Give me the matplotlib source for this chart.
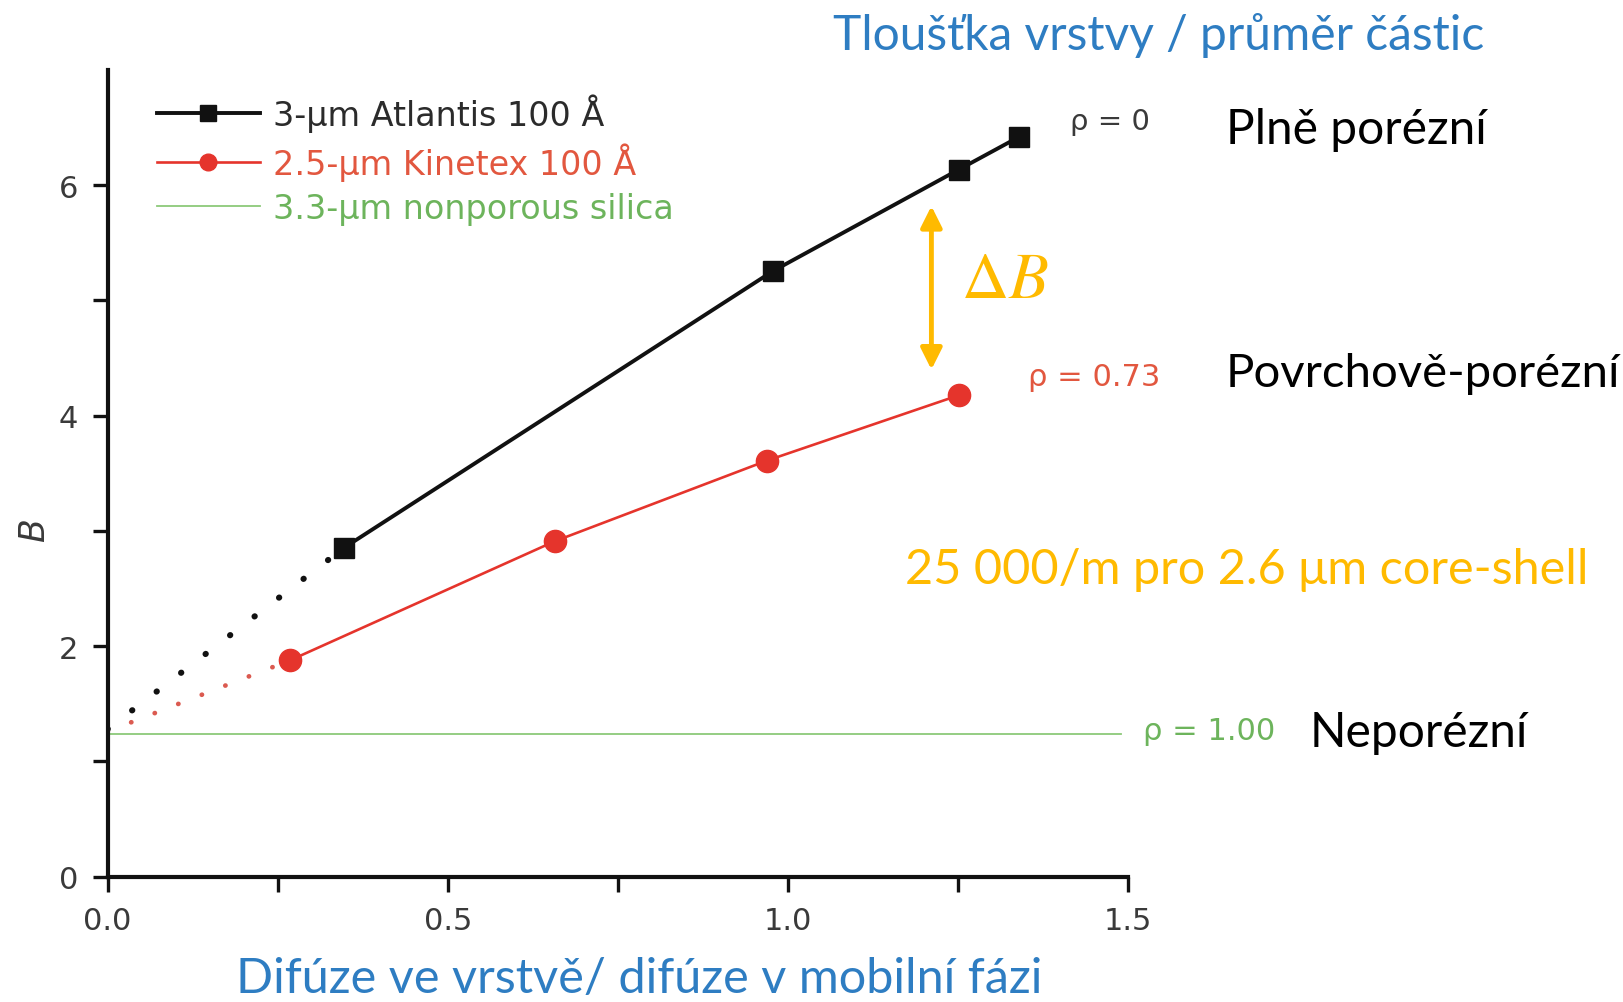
import matplotlib
matplotlib.use("Agg")
import matplotlib.pyplot as plt

# ---- data ----
atlantis_x = [0.348, 0.978, 1.251, 1.340]
atlantis_y = [2.856, 5.255, 6.135, 6.420]
kinetex_x = [0.268, 0.657, 0.969, 1.251]
kinetex_y = [1.877, 2.910, 3.610, 4.177]
nonporous_x = [0.0, 1.49]
nonporous_y = [1.24, 1.24]
atlantis_ext_x = [0.0, 0.348]
atlantis_ext_y = [1.28, 2.856]
kinetex_ext_x = [0.0, 0.268]
kinetex_ext_y = [1.26, 1.877]
delta_x = 1.211
delta_y = [5.82, 4.40]

xticks_major = [0.0, 0.5, 1.0, 1.5]
xtick_labels = ["0.0", "0.5", "1.0", "1.5"]
xticks_minor = [0.25, 0.75, 1.25]
yticks_major = [0, 2, 4, 6]
ytick_labels = ["0", "2", "4", "6"]
yticks_minor = [1, 3, 5]

labels = ["3-µm Atlantis 100 Å", "2.5-µm Kinetex 100 Å", "3.3-µm nonporous silica"]

BLACK = "#111111"
RED = "#E5342C"
RED_TXT = "#E2573F"
GREEN = "#8CC97A"
GREEN_TXT = "#6DB45C"
BLUE = "#2E7DC2"
ORANGE = "#FFBA00"

W, H = 1623, 1003
fig = plt.figure(figsize=(W / 100, H / 100), dpi=100)
ax = fig.add_axes([107.6 / W, 1 - 877.7 / H, (1128 - 107.6) / W, (877.7 - 71) / H])

ax.plot(atlantis_ext_x, atlantis_ext_y, color=BLACK, lw=4.4, linestyle=(0, (0.05, 5.0)),
        dash_capstyle="round", zorder=2)
ax.plot(kinetex_ext_x, kinetex_ext_y, color="#DB5A50", lw=3.4, linestyle=(0, (0.05, 5.3)),
        dash_capstyle="round", zorder=2)
ax.plot(nonporous_x, nonporous_y, color=GREEN, lw=1.3, zorder=1, label=labels[2])
ax.plot(atlantis_x, atlantis_y, color=BLACK, lw=2.8, marker="s", markersize=15,
        markerfacecolor=BLACK, markeredgecolor=BLACK, zorder=3, label=labels[0])
ax.plot(kinetex_x, kinetex_y, color=RED, lw=1.9, marker="o", markersize=16,
        markerfacecolor=RED, markeredgecolor=RED, zorder=3, label=labels[1])

ax.set_xlim(0, 1.5)
ax.set_ylim(0, 7)
for s in ["top", "right"]:
    ax.spines[s].set_visible(False)
for s in ["left", "bottom"]:
    ax.spines[s].set_linewidth(3.0)
    ax.spines[s].set_color(BLACK)

ax.set_xticks(xticks_major)
ax.set_xticklabels(xtick_labels)
ax.set_xticks(xticks_minor, minor=True)
ax.set_yticks(yticks_major)
ax.set_yticklabels(ytick_labels)
ax.set_yticks(yticks_minor, minor=True)
ax.tick_params(which="both", direction="out", length=11, width=2.4, color=BLACK,
               labelsize=22, labelcolor="#3a3a3a", pad=10)

handles, lbls = ax.get_legend_handles_labels()
order = [lbls.index(l) for l in labels]
leg = ax.legend([handles[i] for i in order], [lbls[i] for i in order],
                loc="upper left", bbox_to_anchor=(0.035, 0.988), frameon=False,
                fontsize=24, handlelength=3.1, handletextpad=0.4, labelspacing=0.32,
                borderaxespad=0.0, markerscale=0.75)
for txt, c in zip(leg.get_texts(), ["#2b2b2b", RED_TXT, GREEN_TXT]):
    txt.set_color(c)

# annotations in data coordinates
ax.text(1.473, 6.56, "ρ = 0", fontsize=21, color="#3a3a3a", ha="center", va="center")
ax.text(1.45, 4.34, "ρ = 0.73", fontsize=22, color=RED_TXT, ha="center", va="center",
        clip_on=False)
ax.text(1.619, 1.27, "ρ = 1.00", fontsize=22, color=GREEN_TXT, ha="center", va="center",
        clip_on=False)

ax.annotate("", xy=(delta_x, delta_y[1]), xytext=(delta_x, delta_y[0]),
            arrowprops=dict(arrowstyle="<|-|>", color=ORANGE, lw=3.5, mutation_scale=32,
                            shrinkA=0, shrinkB=0))
plt.rcParams["mathtext.fontset"] = "stix"
ax.text(1.255, 5.19, r"$\Delta B$", fontsize=47, color=ORANGE, ha="left", va="center")

# figure level texts
big = dict(family=["Lato", "DejaVu Sans"])
fig.text(1226 / W, 1 - 130 / H, "Plně porézní", fontsize=34.5, color="black",
         ha="left", va="center", **big)
fig.text(1226 / W, 1 - 374 / H, "Povrchově-porézní", fontsize=34, color="black",
         ha="left", va="center", **big)
fig.text(1310 / W, 1 - 733 / H, "Neporézní", fontsize=34.5, color="black",
         ha="left", va="center", **big)
fig.text(1159 / W, 1 - 36 / H, "Tloušťka vrstvy / průměr částic", fontsize=34.5, color=BLUE,
         ha="center", va="center", **big)
fig.text(1247 / W, 1 - 570 / H, "25 000/m pro 2.6 μm core-shell", fontsize=35, color=ORANGE,
         ha="center", va="center", **big)
fig.text(639 / W, 1 - 979 / H, "Difúze ve vrstvě/ difúze v mobilní fázi", fontsize=35,
         color=BLUE, ha="center", va="center", **big)
fig.text(34 / W, 1 - 530 / H, "B", fontsize=25, style="italic", color="#3a3a3a",
         rotation=90, ha="center", va="center")

fig.savefig("out.png", dpi=100)
